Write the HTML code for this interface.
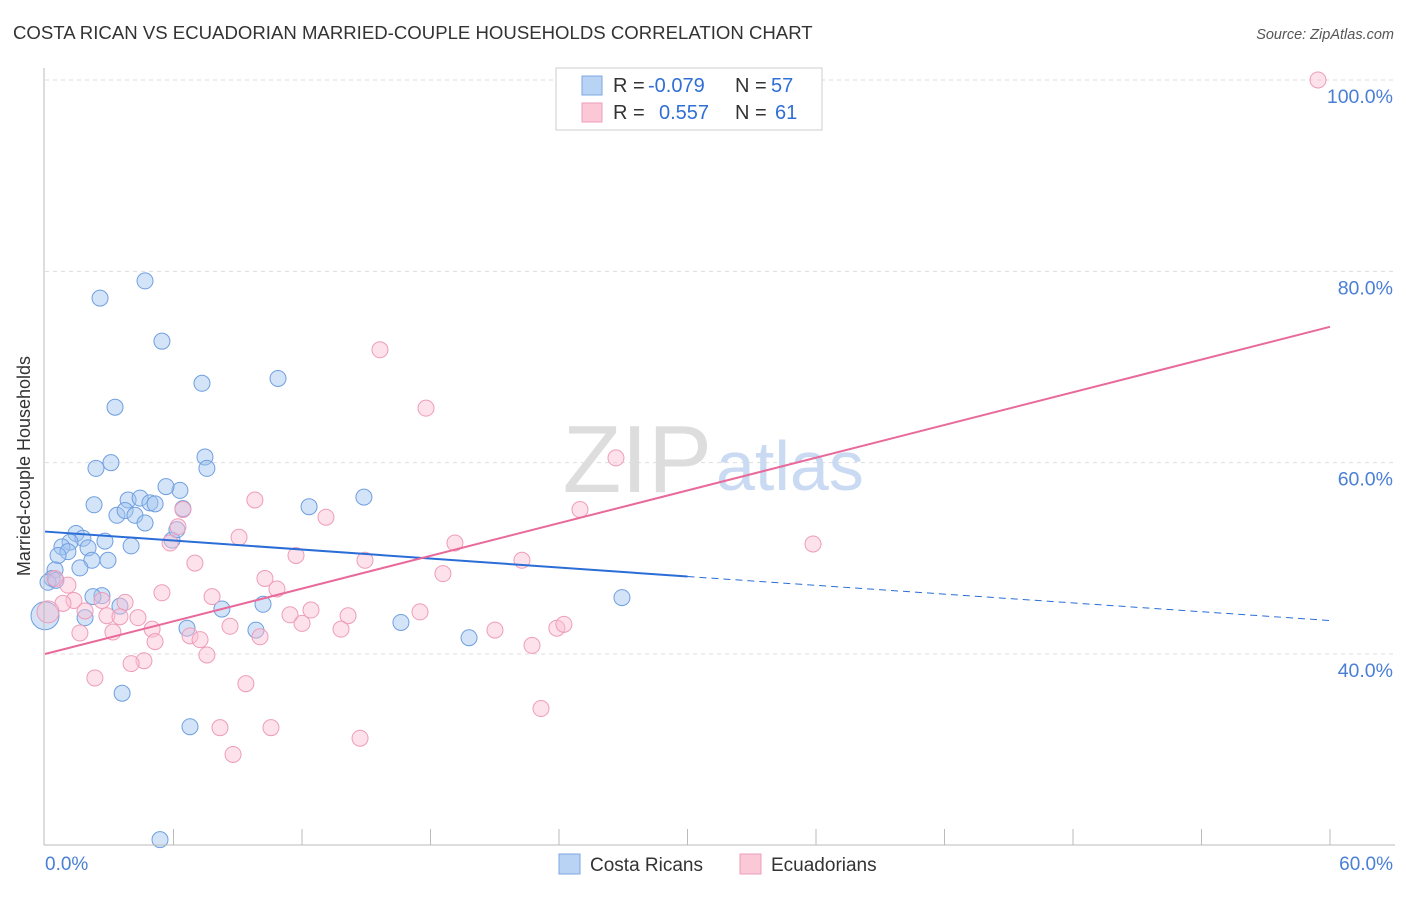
<!DOCTYPE html>
<html><head><meta charset="utf-8"><style>
body{margin:0;background:#fff;font-family:"Liberation Sans",sans-serif}
svg text{font-family:"Liberation Sans",sans-serif}
</style></head><body>
<svg id="chart" width="1406" height="892">
<text x="13" y="39" font-size="18.6" fill="#333">COSTA RICAN VS ECUADORIAN MARRIED-COUPLE HOUSEHOLDS CORRELATION CHART</text>
<text x="1394" y="39" font-size="14.5" fill="#555" font-style="italic" text-anchor="end">Source: ZipAtlas.com</text>
<g id="grid"></g>
<text x="712" y="492" font-size="96" fill="#ddd" text-anchor="end" font-family="Liberation Serif">ZIP</text>
<text x="716" y="490" font-size="70" fill="#c9daf2">atlas</text>
<g id="marks"></g>
<line x1="44" y1="68" x2="44" y2="845" stroke="#bbb"/>
<line x1="44" y1="845" x2="1395" y2="845" stroke="#bbb"/>
<text x="22" y="458" font-size="18" fill="#333" text-anchor="middle" transform="rotate(-90 30 458)">Married-couple Households</text>
<text x="45" y="870" font-size="19" fill="#4a7fd6">0.0%</text>
<text x="1393" y="870" font-size="19" fill="#4a7fd6" text-anchor="end">60.0%</text>
<g>
<rect x="556" y="68" width="266" height="62" fill="#fff" stroke="#ccc"/>
<rect x="582" y="76" width="20" height="19" fill="#b9d3f5" stroke="#7ea7e0"/>
<rect x="582" y="103" width="20" height="19" fill="#fbc8d8" stroke="#ee9db8"/>
<text x="613" y="92" font-size="20" fill="#333">R =</text>
<text x="648" y="92" font-size="20" fill="#2f6fd6">-0.079</text>
<text x="735" y="92" font-size="20" fill="#333">N =</text>
<text x="771" y="92" font-size="20" fill="#2f6fd6">57</text>
<text x="613" y="119" font-size="20" fill="#333">R =</text>
<text x="659" y="119" font-size="20" fill="#2f6fd6">0.557</text>
<text x="735" y="119" font-size="20" fill="#333">N =</text>
<text x="775" y="119" font-size="20" fill="#2f6fd6">61</text>
</g>
<g>
<rect x="559" y="854" width="21" height="20" fill="#b9d3f5" stroke="#7ea7e0"/>
<text x="590" y="871" font-size="19" fill="#333">Costa Ricans</text>
<rect x="740" y="854" width="21" height="20" fill="#fbc8d8" stroke="#ee9db8"/>
<text x="771" y="871" font-size="19" fill="#333">Ecuadorians</text>
</g>
</svg>
<script>
const yTicks=[40,60,80,100];
const yTickLabels=["40.0%","60.0%","80.0%","100.0%"];
const xTicks=[6,12,18,24,30,36,42,48,54,60];
const blueX=[4.67,2.57,5.46,7.33,10.88,3.27,3.08,2.38,7.47,7.56,2.29,3.88,4.44,4.90,5.14,6.30,5.65,3.36,3.74,4.20,4.67,6.44,12.33,14.89,1.45,1.77,1.17,0.79,1.07,0.61,2.01,2.80,4.02,5.93,6.16,2.19,2.94,1.63,0.47,0.33,0.14,2.66,2.24,3.50,8.26,10.18,1.87,6.63,9.85,16.62,19.80,26.94,3.60,6.77,5.37,0.51,0];
const blueY=[79.0,77.2,72.7,68.3,68.8,65.8,60.0,59.4,60.6,59.4,55.6,56.1,56.3,55.8,55.7,57.1,57.5,54.5,55.0,54.5,53.7,55.2,55.4,56.4,52.6,52.1,51.7,51.2,50.7,50.3,51.1,51.8,51.3,51.9,53.0,49.8,49.8,49.0,48.8,47.9,47.5,46.1,46.0,45.0,44.7,45.2,43.8,42.7,42.5,43.3,41.7,45.9,35.9,32.4,20.6,47.7,44.0];
const blueR=[8,8,8,8,8,8,8,8,8,8,8,8,8,8,8,8,8,8,8,8,8,8,8,8,8,8,8,8,8,8,8,8,8,8,8,8,8,8,8,8,8,8,8,8,8,8,8,8,8,8,8,8,8,8,8,8,14];
const pinkX=[59.44,15.64,17.79,26.66,24.98,35.86,9.80,13.12,6.21,6.44,5.84,9.06,11.72,14.94,19.14,22.27,18.58,7.00,10.27,10.83,5.46,7.80,3.74,2.66,1.35,0.84,1.07,0.47,2.89,3.50,4.34,1.87,12.42,11.44,14.15,17.51,12.00,8.64,13.82,5.00,3.17,1.63,6.77,7.24,10.04,5.14,21.01,23.90,24.23,22.74,7.56,4.62,4.02,2.33,9.38,23.16,8.17,10.55,14.71,8.78,0.14];
const pinkY=[100,71.8,65.7,60.5,55.1,51.5,56.1,54.3,53.3,55.1,51.6,52.2,50.3,49.8,51.6,49.8,48.4,49.5,47.9,46.8,46.4,46.0,45.4,45.6,45.6,45.3,47.2,47.9,44.0,43.9,43.8,44.5,44.6,44.1,44.0,44.4,43.2,42.9,42.6,42.6,42.3,42.2,41.9,41.5,41.8,41.3,42.5,42.7,43.1,40.9,39.9,39.3,39.0,37.5,36.9,34.3,32.3,32.3,31.2,29.5,44.4];
const blueTrend=[52.8,48.1,43.5]; // at x=0,30,60
const pinkTrend=[40.0,74.2]; // at x=0,60
const sx=v=>45+v/60*1285;
const sy=v=>80+(100-v)*9.567;
const NS="http://www.w3.org/2000/svg";
const grid=document.getElementById('grid'),marks=document.getElementById('marks');
function mk(tag,attrs,parent){const e=document.createElementNS(NS,tag);for(const k in attrs)e.setAttribute(k,attrs[k]);parent.appendChild(e);return e;}
yTicks.forEach((t,i)=>{
 const l=mk('line',{x1:45,x2:1395,y1:sy(t),y2:sy(t),stroke:'#ddd','stroke-dasharray':'4,4'},grid);
 
 
 const tx=mk('text',{x:1393,y:sy(t)+23,'font-size':19.5,fill:'#4a7fd6','text-anchor':'end'},grid);
 tx.textContent=yTickLabels[i];
 
 
});
xTicks.forEach(t=>{
 const l=mk('line',{x1:sx(t),x2:sx(t),y1:829,y2:845,stroke:'#bbb'},grid);
 
 
});
blueX.forEach((v,i)=>{
 const c=mk('circle',{cx:sx(v),cy:sy(blueY[i]),r:blueR[i],fill:'rgba(160,196,240,0.45)',stroke:'#6f9fe0','stroke-width':1},marks);
 
 
});
pinkX.forEach((v,i)=>{
 const c=mk('circle',{cx:sx(v),cy:sy(pinkY[i]),r:(i==pinkX.length-1?11:8),fill:'rgba(250,190,210,0.45)',stroke:'#ee9db8','stroke-width':1},marks);
 
 
});
const b1=mk('line',{x1:sx(0),y1:sy(blueTrend[0]),x2:sx(30),y2:sy(blueTrend[1]),stroke:'#2a6dd6','stroke-width':2},marks);


const b2=mk('line',{x1:sx(30),y1:sy(blueTrend[1]),x2:sx(60),y2:sy(blueTrend[2]),stroke:'#2a6dd6','stroke-width':1,'stroke-dasharray':'7,5'},marks);


const p1=mk('line',{x1:sx(0),y1:sy(pinkTrend[0]),x2:sx(60),y2:sy(pinkTrend[1]),stroke:'#e8699a','stroke-width':2},marks);


</script>
</body></html>
